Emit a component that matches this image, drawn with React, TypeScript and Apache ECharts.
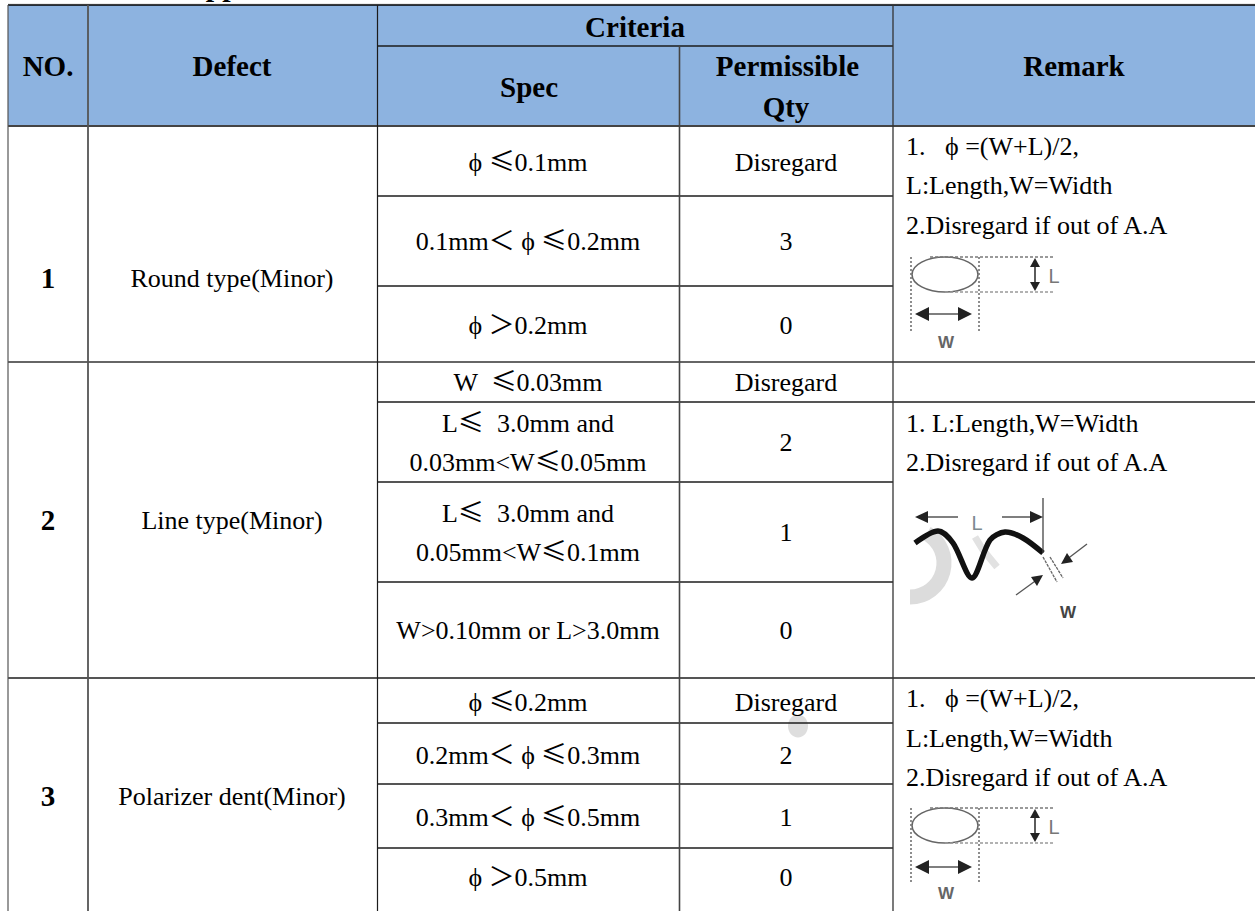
import React, { useEffect, useRef } from "react";
import * as echarts from "echarts";

const SERIF = '"CjkSymbols", "Liberation Serif", "Noto Sans CJK SC", "DejaVu Serif", serif';
const BODY = 26;
const HEAD = 29;

const headers = ["NO.", "Defect", "Criteria", "Spec", "Permissible", "Qty", "Remark"];
const numbers = ["1", "2", "3"];
const defects = ["Round type(Minor)", "Line type(Minor)", "Polarizer dent(Minor)"];
const specs = [
  "ϕ ≤0.1mm",
  "0.1mm＜ ϕ ≤0.2mm",
  "ϕ ＞0.2mm",
  "W  ≤0.03mm",
  "L≤  3.0mm and",
  "0.03mm<W≤0.05mm",
  "L≤  3.0mm and",
  "0.05mm<W≤0.1mm",
  "W>0.10mm or L>3.0mm",
  "ϕ ≤0.2mm",
  "0.2mm＜ ϕ ≤0.3mm",
  "0.3mm＜ ϕ ≤0.5mm",
  "ϕ ＞0.5mm",
];
const quantities = ["Disregard", "3", "0", "Disregard", "2", "1", "0", "Disregard", "2", "1", "0"];
const remarkRound = ["1.   ϕ =(W+L)/2,", "L:Length,W=Width", "2.Disregard if out of A.A"];
const remarkLine = ["1. L:Length,W=Width", "2.Disregard if out of A.A"];

const specY = [162, 241, 325, 382, 423, 462, 513, 552, 630, 702, 755, 817, 877];
const qtyY = [162, 241, 325, 382, 442, 532, 630, 702, 755, 817, 877];
const rowY = [278, 520, 796];

const DARK = "#1c1c1c";

function txt(text: string, x: number, y: number, size: number, bold = false, align = "center", fill = "#000") {
  return {
    type: "text",
    z: 5,
    style: {
      text,
      x,
      y,
      fontSize: size,
      fontFamily: SERIF,
      fontWeight: bold ? "bold" : "normal",
      textAlign: align,
      textVerticalAlign: "middle",
      fill,
    },
  };
}

function ln(x1: number, y1: number, x2: number, y2: number, stroke = DARK, lineWidth = 1.3, lineDash?: number[], z = 3) {
  return { type: "line", z, shape: { x1, y1, x2, y2 }, style: { stroke, lineWidth, lineDash } };
}

function tri(points: number[][], fill = "#222") {
  return { type: "polygon", z: 4, shape: { points }, style: { fill } };
}

function label(text: string, x: number, y: number, size: number, fill: string, bold = false) {
  return {
    type: "text",
    z: 4,
    style: { text, x, y, fontSize: size, fontWeight: bold ? "bold" : "normal", fontFamily: '"Liberation Sans"', fill, textAlign: "center", textVerticalAlign: "middle" },
  };
}

function ellipseFigure(top: number, bottom: number, arrowY: number, wY: number, endY: number) {
  const cy = (top + bottom) / 2;
  const gray = "#7a7a7a";
  return [
    { type: "ellipse", z: 4, shape: { cx: 945, cy, rx: 33, ry: (bottom - top) / 2 }, style: { fill: "none", stroke: "#666", lineWidth: 1.6 } },
    ln(911, top, 911, endY, gray, 1.7, [2, 2], 4),
    ln(979, top, 979, endY, gray, 1.7, [2, 2], 4),
    ln(930, top, 1053, top, gray, 1.5, [3, 2], 4),
    ln(945, bottom, 1053, bottom, "#999", 1.7, [3, 2], 4),
    ln(1035, top + 4, 1035, bottom - 4, "#333", 1.6, undefined, 4),
    tri([[1035, top + 1], [1030, top + 10], [1040, top + 10]]),
    tri([[1035, bottom - 1], [1030, bottom - 10], [1040, bottom - 10]]),
    ln(925, arrowY, 962, arrowY, "#555", 1.6, undefined, 4),
    tri([[915, arrowY], [929, arrowY - 7], [929, arrowY + 7]]),
    tri([[972, arrowY], [958, arrowY - 7], [958, arrowY + 7]]),
    label("L", 1054, cy + 1, 20, "#777"),
    label("W", 946, wY, 17, "#666", true),
  ];
}

function waveFigure() {
  return [
    { type: "arc", z: 2, shape: { cx: 910, cy: 563, r: 34, startAngle: -1.05, endAngle: 1.57, clockwise: true }, style: { fill: "none", stroke: "#dcdcdc", lineWidth: 15 } },
    { type: "polyline", z: 2, shape: { points: [[975, 537], [983, 550], [997, 567]] }, style: { fill: "none", stroke: "#e2e2e2", lineWidth: 7 } },
    { type: "polyline", z: 4, shape: { smooth: 0.3, points: [[915, 543], [938, 531], [953, 543], [972, 578], [990, 540], [1005, 532], [1023, 538], [1043, 553]] }, style: { fill: "none", stroke: "#111", lineWidth: 5.5 } },
    ln(1043, 498, 1043, 553, "#444", 1.3, undefined, 4),
    ln(922, 517, 958, 517, "#555", 1.5, undefined, 4),
    ln(1002, 517, 1036, 517, "#555", 1.5, undefined, 4),
    tri([[915, 517], [928, 511], [928, 523]]),
    tri([[1043, 517], [1030, 511], [1030, 523]]),
    ln(1043, 557, 1057, 582, "#666", 1.3, [3, 1], 4),
    ln(1050, 557, 1063, 578, "#666", 1.3, [3, 1], 4),
    ln(1087, 544, 1066, 560, "#555", 1.3, undefined, 4),
    tri([[1061, 564], [1067, 553], [1073, 562]]),
    ln(1016, 595, 1038, 579, "#555", 1.3, undefined, 4),
    tri([[1043, 575], [1031, 577], [1037, 586]]),
    label("L", 977, 523, 20, "#7d8a90"),
    label("W", 1068, 612, 17, "#444", true),
  ];
}

function buildElements() {
  const els: any[] = [];
  els.push({ type: "rect", z: 1, shape: { x: 8, y: 5, width: 1247, height: 121 }, style: { fill: "#8DB3E0" } });
  // section heading cut off by the top of the page: only the descenders show
  els.push({
    type: "text",
    z: 5,
    style: { text: "Appearance", x: 184, y: -15, fontSize: 30, fontFamily: SERIF, fontWeight: "bold", textAlign: "left", textVerticalAlign: "middle", fill: "#000" },
  });
  // faint blemish in the source scan
  els.push({ type: "ellipse", z: 2, shape: { cx: 798, cy: 726, rx: 10, ry: 11.5 }, style: { fill: "#dedede" } });

  // horizontal rules
  els.push(ln(8, 4, 1255, 4, "#d8d8d8", 1));
  els.push(ln(8, 5, 1255, 5, "#000", 1.4));
  els.push(ln(377, 46, 893, 46, DARK, 1.3));
  els.push(ln(8, 126, 1255, 126, "#444", 1.8));
  els.push(ln(8, 362, 1255, 362, "#333", 1.6));
  els.push(ln(377, 402, 1255, 402, DARK, 1.3));
  els.push(ln(8, 678, 1255, 678, DARK, 1.3));
  for (const y of [196, 286, 482, 582, 723, 784, 848]) {
    els.push(ln(377, y, 893, y, DARK, 1.3));
  }

  // vertical rules
  els.push(ln(8, 5, 8, 911, "#555", 1.2));
  els.push(ln(88, 5, 88, 911, "#555", 1.8));
  els.push(ln(377.5, 5, 377.5, 911, DARK, 1.2));
  els.push(ln(679.5, 46, 679.5, 911, "#444", 1.6));
  els.push(ln(893, 5, 893, 911, "#333", 1.3));

  // headers
  const headX = [48, 232, 635, 529, 787.5, 786, 1074];
  const headY = [66, 66, 27, 87, 66, 107, 66];
  headers.forEach((h, i) => els.push(txt(h, headX[i], headY[i], HEAD, true)));

  numbers.forEach((n, i) => els.push(txt(n, 48, rowY[i], HEAD, true)));
  defects.forEach((d, i) => els.push(txt(d, 232, rowY[i], BODY)));
  specs.forEach((s, i) => els.push(txt(s, 528, specY[i], BODY)));
  quantities.forEach((q, i) => els.push(txt(q, 786, qtyY[i], BODY)));

  const r1 = [146, 185, 225];
  remarkRound.forEach((t, i) => els.push(txt(t, 906, r1[i], BODY, false, "left")));
  const r2 = [423, 462];
  remarkLine.forEach((t, i) => els.push(txt(t, 906, r2[i], BODY, false, "left")));
  const r3 = [698, 738, 777];
  remarkRound.forEach((t, i) => els.push(txt(t, 906, r3[i], BODY, false, "left")));

  els.push(...ellipseFigure(257, 292, 314, 342, 333));
  els.push(...waveFigure());
  els.push(...ellipseFigure(808, 843, 867, 893, 883));
  return els;
}

const FACE_CSS =
  '@font-face{font-family:"CjkSymbols";src:local("Noto Sans CJK SC"),local("Noto Sans CJK SC Regular"),local("NotoSansCJKsc-Regular");unicode-range:U+2264,U+03D5;}';

export default function App() {
  const ref = useRef<HTMLDivElement>(null);
  useEffect(() => {
    document.body.style.margin = "0";
    const style = document.createElement("style");
    style.textContent = FACE_CSS;
    document.head.appendChild(style);
    const chart = echarts.init(ref.current!, undefined, { renderer: "svg" });
    chart.setOption({
      animation: false,
      backgroundColor: "#ffffff",
      graphic: { elements: buildElements() },
    });
    return () => {
      chart.dispose();
      style.remove();
    };
  }, []);
  return <div ref={ref} style={{ width: 1255, height: 911, position: "absolute", left: 0, top: 0 }} />;
}
